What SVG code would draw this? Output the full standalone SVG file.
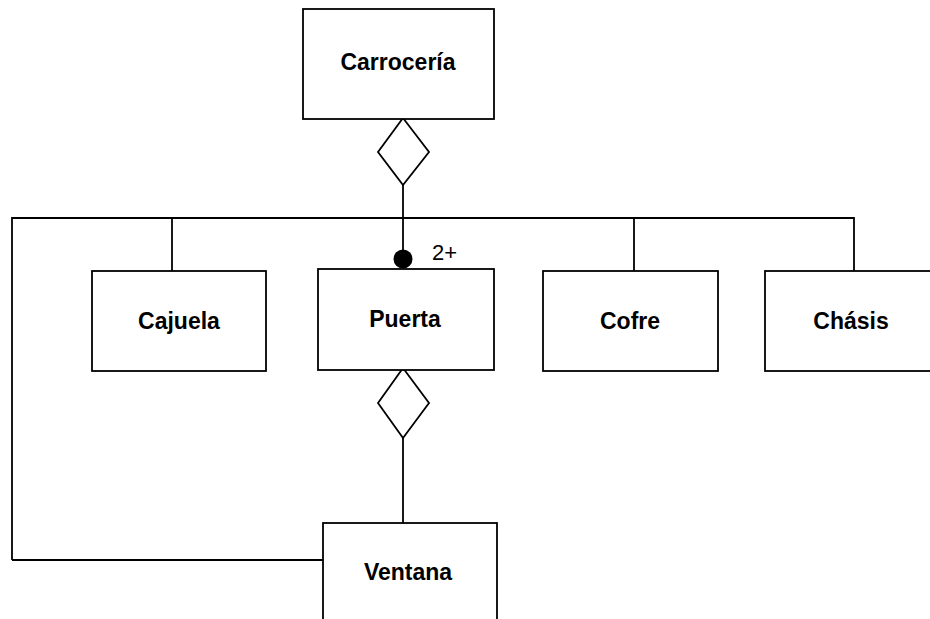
<svg xmlns="http://www.w3.org/2000/svg" width="930" height="619" viewBox="0 0 930 619">
  <style>
    .box { fill: #fff; stroke: #000; stroke-width: 1.8; }
    .line { fill: none; stroke: #000; stroke-width: 1.8; }
    .diamond { fill: #fff; stroke: #000; stroke-width: 1.8; }
    .label { font-family: "Liberation Sans", Arial, sans-serif; font-weight: bold; font-size: 23px; text-anchor: middle; fill: #000; }
    .mult { font-family: "Liberation Sans", Arial, sans-serif; font-size: 22px; fill: #000; }
  </style>
  <rect width="930" height="619" fill="#fff"/>

  <!-- connectors -->
  <g id="connectors">
    <line class="line" x1="403" y1="185" x2="403" y2="259"/>
    <polyline class="line" points="12,560 12,218 854,218 854,271"/>
    <line class="line" x1="172" y1="218" x2="172" y2="271"/>
    <line class="line" x1="634" y1="218" x2="634" y2="271"/>
    <line class="line" x1="12" y1="560" x2="324" y2="560"/>
    <line class="line" x1="403" y1="438" x2="403" y2="523"/>
    <polygon class="diamond" points="403,118 429,152 403,185 378,152"/>
    <polygon class="diamond" points="403,368 429,403 403,438 378,403"/>
    <circle cx="403" cy="259" r="9.5" fill="#000"/>
    <text class="mult" x="432" y="260">2+</text>
  </g>

  <g id="carroceria">
    <rect class="box" x="303" y="9" width="191" height="110"/>
    <text class="label" x="398" y="70">Carrocería</text>
  </g>
  <g id="cajuela">
    <rect class="box" x="92" y="271" width="174" height="100"/>
    <text class="label" x="179" y="329">Cajuela</text>
  </g>
  <g id="puerta">
    <rect class="box" x="318" y="269" width="176" height="101"/>
    <text class="label" x="405" y="327">Puerta</text>
  </g>
  <g id="cofre">
    <rect class="box" x="543" y="271" width="175" height="100"/>
    <text class="label" x="630" y="329">Cofre</text>
  </g>
  <g id="chasis">
    <rect class="box" x="765" y="271" width="175" height="100"/>
    <text class="label" x="851" y="329">Chásis</text>
  </g>
  <g id="ventana">
    <rect class="box" x="323" y="523" width="174" height="110"/>
    <text class="label" x="408" y="580">Ventana</text>
  </g>
</svg>
